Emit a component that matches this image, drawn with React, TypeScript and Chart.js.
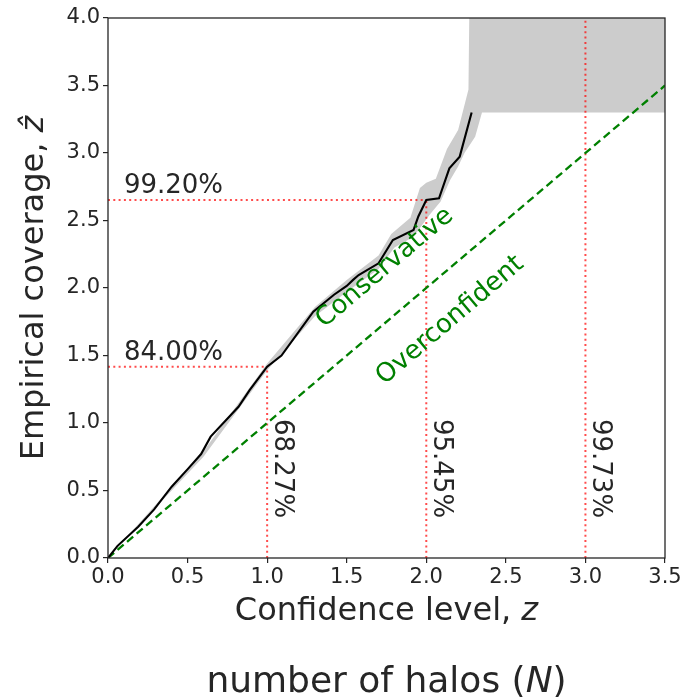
import React, { useEffect, useRef } from "react";
import { Chart, registerables } from "chart.js";

Chart.register(...registerables);

// ---- data ----
const lineZ = [0, 0.06, 0.19, 0.29, 0.4, 0.505, 0.585, 0.645, 0.82, 0.89, 1.0, 1.09, 1.29, 1.42, 1.5, 1.54, 1.575, 1.7, 1.79, 1.92, 1.95, 2.0, 2.08, 2.145, 2.21, 2.285];
const lineCov = [0, 0.09, 0.232, 0.36, 0.528, 0.664, 0.77, 0.899, 1.12, 1.244, 1.417, 1.5, 1.825, 1.95, 2.015, 2.06, 2.096, 2.183, 2.356, 2.43, 2.53, 2.652, 2.664, 2.886, 2.973, 3.3];

// band upper (left / top) edge, left to right
const bandUpperZ = [0, 0.6, 1.0, 1.3, 1.5, 1.7, 1.78, 1.9, 1.96, 2.0, 2.06, 2.13, 2.2, 2.265, 2.27, 3.5];
const bandUpperCov = [0, 0.79, 1.44, 1.86, 2.06, 2.24, 2.4, 2.52, 2.74, 2.78, 2.81, 3.03, 3.17, 3.47, 4.0, 4.0];
// band lower (right / bottom) edge, left to right
const bandLowerZ = [0, 0.6, 1.0, 1.3, 1.5, 1.7, 1.8, 1.92, 2.02, 2.09, 2.15, 2.2, 2.24, 2.307, 2.35, 3.5];
const bandLowerCov = [0, 0.75, 1.39, 1.79, 1.97, 2.14, 2.3, 2.38, 2.54, 2.64, 2.8, 2.9, 3.0, 3.12, 3.3, 3.3];

const diagZ = [0, 3.5];

// sigma levels and where they are reached
const levelZ = [1, 2, 3];
const levelLabels = ["68.27%", "95.45%", "99.73%"];
const levelTop = [1.417, 2.652, 4.0];
const coverageValues = [1.417, 2.652];
const coverageLabels = ["84.00%", "99.20%"];

const regionLabels = ["Conservative", "Overconfident"];
const regionZ = [1.74, 2.15];
const regionCov = [2.15, 1.76];

const xTicks = [0, 0.5, 1, 1.5, 2, 2.5, 3, 3.5];
const yTicks = [0, 0.5, 1, 1.5, 2, 2.5, 3, 3.5, 4];

const FONT = "'DejaVu Sans', sans-serif";
const TEXT = "#262626";

function drawMixed(ctx: CanvasRenderingContext2D, parts: [string, string][], cx: number, cy: number) {
  let total = 0;
  const widths: number[] = [];
  for (const [t, f] of parts) {
    ctx.font = f;
    const w = ctx.measureText(t).width;
    widths.push(w);
    total += w;
  }
  let x = cx - total / 2;
  ctx.textAlign = "left";
  ctx.textBaseline = "middle";
  parts.forEach(([t, f], i) => {
    ctx.font = f;
    ctx.fillText(t, x, cy);
    x += widths[i];
  });
}

const annotPlugin = {
  id: "annot",
  afterDraw(chart: any) {
    const { ctx, chartArea: ca } = chart;
    const xs = chart.scales.x;
    const ys = chart.scales.y;
    ctx.save();
    // frame
    ctx.strokeStyle = TEXT;
    ctx.lineWidth = 1.3;
    ctx.strokeRect(ca.left, ca.top, ca.right - ca.left, ca.bottom - ca.top);

    ctx.fillStyle = TEXT;
    // coverage labels
    ctx.font = `26px ${FONT}`;
    ctx.textAlign = "left";
    ctx.textBaseline = "alphabetic";
    coverageValues.forEach((v, i) => {
      ctx.fillText(coverageLabels[i], xs.getPixelForValue(0.1), ys.getPixelForValue(v + 0.05));
    });
    // level labels (rotated)
    levelZ.forEach((z, i) => {
      ctx.save();
      ctx.translate(xs.getPixelForValue(z + 0.05), ys.getPixelForValue(1.03));
      ctx.rotate(Math.PI / 2);
      ctx.textAlign = "left";
      ctx.textBaseline = "alphabetic";
      ctx.fillText(levelLabels[i], 0, 0);
      ctx.restore();
    });
    // region labels
    const ang = Math.atan2(ys.getPixelForValue(1) - ys.getPixelForValue(0), xs.getPixelForValue(1) - xs.getPixelForValue(0));
    ctx.fillStyle = "green";
    regionLabels.forEach((t, i) => {
      ctx.save();
      ctx.translate(xs.getPixelForValue(regionZ[i]), ys.getPixelForValue(regionCov[i]));
      ctx.rotate(ang);
      ctx.textAlign = "center";
      ctx.textBaseline = "middle";
      ctx.fillText(t, 0, 0);
      ctx.restore();
    });

    // axis titles
    ctx.fillStyle = TEXT;
    const cx = (ca.left + ca.right) / 2;
    drawMixed(ctx, [["Confidence level, ", `32px ${FONT}`], ["z", `italic 32px ${FONT}`]], cx, 612);
    drawMixed(ctx, [["number of halos (", `36px ${FONT}`], ["N", `italic 36px ${FONT}`], [")", `36px ${FONT}`]], cx, 683);
    ctx.save();
    ctx.translate(35, (ca.top + ca.bottom) / 2);
    ctx.rotate(-Math.PI / 2);
    drawMixed(ctx, [["Empirical coverage, ", `32px ${FONT}`], ["\u1E91", `italic 32px ${FONT}`]], 0, 0);
    ctx.restore();
    ctx.restore();
  },
};

export default function App() {
  const ref = useRef<HTMLCanvasElement>(null);
  useEffect(() => {
    if (!ref.current) return;
    const pts = (xs: number[], ys: number[]) => xs.map((x, i) => ({ x, y: ys[i] }));
    const band = pts(bandUpperZ, bandUpperCov).concat(pts(bandLowerZ, bandLowerCov).reverse());
    const red = "rgba(255,0,0,0.7)";
    const redDash = [2, 3.3];
    const redSets: any[] = [];
    levelZ.forEach((z, i) => {
      redSets.push({
        data: [{ x: z, y: 0 }, { x: z, y: levelTop[i] }],
        borderColor: red, borderWidth: 2, borderDash: redDash, pointRadius: 0, fill: false, order: 5,
      });
    });
    coverageValues.forEach((v, i) => {
      redSets.push({
        data: [{ x: 0, y: v }, { x: levelZ[i], y: v }],
        borderColor: red, borderWidth: 2, borderDash: redDash, pointRadius: 0, fill: false, order: 5,
      });
    });
    const chart = new Chart(ref.current, {
      type: "line",
      data: {
        datasets: [
          {
            data: band,
            borderWidth: 0,
            borderColor: "rgba(0,0,0,0)",
            backgroundColor: "#cccccc",
            fill: "shape",
            pointRadius: 0,
            order: 10,
          } as any,
          ...redSets,
          {
            data: pts(diagZ, diagZ),
            borderColor: "green",
            borderWidth: 2.3,
            borderDash: [8, 4.5],
            pointRadius: 0,
            fill: false,
            order: 4,
          },
          {
            data: pts(lineZ, lineCov),
            borderColor: "black",
            borderWidth: 2.1,
            pointRadius: 0,
            fill: false,
            tension: 0,
            order: 1,
          },
        ],
      },
      options: {
        animation: false,
        responsive: false,
        devicePixelRatio: 1,
        layout: { padding: { left: 0, top: 18, right: 19, bottom: 0 } },
        plugins: { legend: { display: false }, tooltip: { enabled: false }, title: { display: false } },
        scales: {
          x: {
            type: "linear",
            min: 0,
            max: 3.5,
            afterBuildTicks: (s: any) => { s.ticks = xTicks.map((v) => ({ value: v })); },
            afterFit: (s: any) => { s.height = 142; },
            ticks: { callback: (v: any) => Number(v).toFixed(1), font: { family: FONT, size: 21 }, color: TEXT, padding: 2, maxRotation: 0, autoSkip: false },
            grid: { drawOnChartArea: false, drawTicks: true, tickLength: 5, color: TEXT, lineWidth: 1.2 },
            border: { display: false },
          },
          y: {
            type: "linear",
            min: 0,
            max: 4,
            afterBuildTicks: (s: any) => { s.ticks = yTicks.map((v) => ({ value: v })); },
            afterFit: (s: any) => { s.width = 108; },
            ticks: { callback: (v: any) => Number(v).toFixed(1), font: { family: FONT, size: 21 }, color: TEXT, padding: 3, autoSkip: false },
            grid: { drawOnChartArea: false, drawTicks: true, tickLength: 5, color: TEXT, lineWidth: 1.2 },
            border: { display: false },
          },
        },
      },
      plugins: [annotPlugin],
    } as any);
    return () => chart.destroy();
  }, []);
  return (
    <div style={{ position: "absolute", left: 0, top: 0, width: 684, height: 700, background: "#fff" }}>
      <canvas ref={ref} width={684} height={700} style={{ width: 684, height: 700, display: "block" }} />
    </div>
  );
}
